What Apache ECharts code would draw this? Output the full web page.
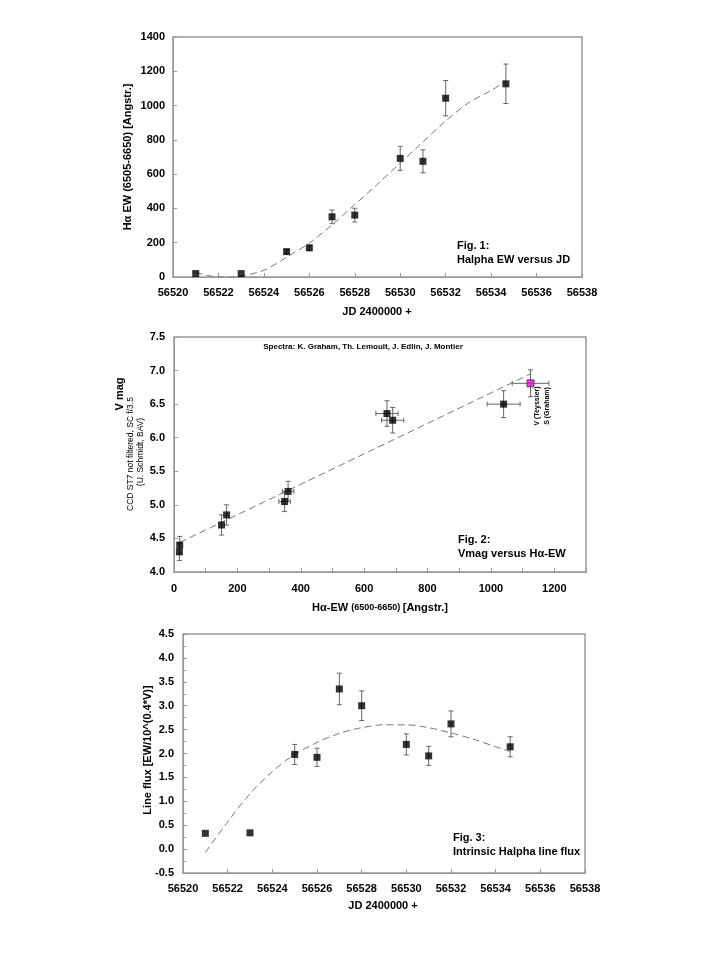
<!DOCTYPE html>
<html><head><meta charset="utf-8">
<script src="https://cdn.jsdelivr.net/npm/echarts@6/dist/echarts.min.js"></script>
<style>html,body{margin:0;padding:0;background:#fff}#c{width:720px;height:960px}</style>
</head><body><div id="c"></div>
<script>
// ---------- Fig. 1: Halpha EW versus JD ----------
const jd = [56521, 56523, 56525, 56526, 56527, 56528, 56530, 56531, 56532, 56534.65];
const ew = [20, 20, 148, 170, 351, 361, 692, 675, 1043, 1127];
const ewErr = [0, 0, 12, 15, 40, 40, 70, 67, 103, 115];
const fit1X = [56521, 56521.5, 56522, 56522.5, 56523, 56524, 56525, 56526, 56527, 56528, 56529, 56530, 56531, 56532, 56533, 56534, 56534.65];
const fit1Y = [27, 10, 0, 0, 6, 39, 115, 198, 304, 422, 542, 665, 788, 910, 1015, 1088, 1142];
const xTicks1 = [56520, 56538, 2];
const yTicks1 = [0, 1400, 200];

// ---------- Fig. 2: Vmag versus Ha-EW ----------
const ew2 = [18, 17, 150, 166, 349, 360, 672, 690, 1040];
const vmag = [4.40, 4.30, 4.70, 4.85, 5.05, 5.20, 6.36, 6.26, 6.50];
const vErr = [0.13, 0.13, 0.15, 0.15, 0.15, 0.15, 0.19, 0.19, 0.20];
const ewErr2 = [0, 0, 0, 0, 18, 18, 35, 35, 52];
const teyssierEW = [1125];
const teyssierV = [6.81];
const teyssierVErr = [0.20];
const teyssierEWErr = [58];
const fit2X = [18, 1125];
const fit2Y = [4.44, 6.95];
const xTicks2 = [0, 1300, 100];
const yTicks2 = [4.0, 7.5, 0.5];

// ---------- Fig. 3: Intrinsic Halpha line flux ----------
const jd3 = [56521, 56523, 56525, 56526, 56527, 56528, 56530, 56531, 56532, 56534.65];
const flux = [0.33, 0.34, 1.98, 1.92, 3.35, 3.00, 2.19, 1.95, 2.62, 2.14];
const fluxErr = [0, 0, 0.21, 0.19, 0.33, 0.31, 0.22, 0.20, 0.27, 0.21];
const fit3X = [56521, 56522, 56523, 56524, 56525, 56526, 56527, 56528, 56529, 56530, 56531, 56532, 56533, 56534, 56534.65];
const fit3Y = [-0.07, 0.57, 1.16, 1.62, 1.98, 2.23, 2.42, 2.54, 2.60, 2.60, 2.54, 2.43, 2.30, 2.14, 2.04];
const xTicks3 = [56520, 56538, 2];
const yTicks3 = [-0.5, 4.5, 0.5];

const FONT = "'Liberation Sans', Arial, sans-serif";
const AX = '#999';
const zip = (a, b, c) => a.map((v, i) => c ? [v, b[i], c[i]] : [v, b[i]]);

function vErrBar(params, api) {
  const x = api.value(0), y = api.value(1), e = api.value(2);
  if (!e) return null;
  const p1 = api.coord([x, y - e]), p2 = api.coord([x, y + e]);
  const c = 2.5, st = { stroke: '#666', lineWidth: 1 };
  return { type: 'group', children: [
    { type: 'line', shape: { x1: p1[0], y1: p1[1], x2: p2[0], y2: p2[1] }, style: st },
    { type: 'line', shape: { x1: p1[0] - c, y1: p1[1], x2: p1[0] + c, y2: p1[1] }, style: st },
    { type: 'line', shape: { x1: p2[0] - c, y1: p2[1], x2: p2[0] + c, y2: p2[1] }, style: st }
  ]};
}
function hErrBar(params, api) {
  const x = api.value(0), y = api.value(1), e = api.value(2);
  if (!e) return null;
  const p1 = api.coord([x - e, y]), p2 = api.coord([x + e, y]);
  const c = 2.5, st = { stroke: '#666', lineWidth: 1 };
  return { type: 'group', children: [
    { type: 'line', shape: { x1: p1[0], y1: p1[1], x2: p2[0], y2: p2[1] }, style: st },
    { type: 'line', shape: { x1: p1[0], y1: p1[1] - c, x2: p1[0], y2: p1[1] + c }, style: st },
    { type: 'line', shape: { x1: p2[0], y1: p2[1] - c, x2: p2[0], y2: p2[1] + c }, style: st }
  ]};
}

function axis(t, idx, fmt, margin, extra) {
  return Object.assign({
    type: 'value', gridIndex: idx, min: t[0], max: t[1], interval: t[2],
    axisLine: { show: true, onZero: false, lineStyle: { color: AX, width: 1 } },
    axisTick: { show: true, inside: true, length: 4, lineStyle: { color: AX } },
    splitLine: { show: false },
    axisLabel: { color: '#000', fontWeight: 'bold', fontSize: 11, fontFamily: FONT, margin: margin, formatter: fmt, showMinLabel: true, showMaxLabel: true }
  }, extra || {});
}
const fmtInt = v => String(v);
const fmt1 = v => v.toFixed(1);
const fmt200 = v => (v % 200 === 0 ? String(v) : '');

const gridCommon = { show: true, borderColor: AX, borderWidth: 1.5, backgroundColor: 'transparent', containLabel: false, outerBoundsMode: 'none' };
const dashed = { color: '#777', width: 1, type: [7, 4] };
const sq = { symbol: 'rect', symbolSize: 7, itemStyle: { color: '#000' } };

function txt(x, y, text, size, opts) {
  return Object.assign({
    type: 'text', x: x, y: y, silent: true,
    style: Object.assign({ text: text, fill: '#000', font: 'bold ' + size + 'px ' + FONT, align: 'center', verticalAlign: 'middle' }, (opts && opts.style) || {})
  }, (opts && opts.el) || {});
}

const option = {
  backgroundColor: '#fff',
  animation: false,
  grid: [
    Object.assign({ left: 173, top: 37, width: 409, height: 240 }, gridCommon),
    Object.assign({ left: 174, top: 337, width: 412, height: 235 }, gridCommon),
    Object.assign({ left: 183, top: 634, width: 402, height: 239 }, gridCommon)
  ],
  xAxis: [
    axis(xTicks1, 0, fmtInt, 10),
    axis(xTicks2, 1, fmt200, 11),
    axis(xTicks3, 2, fmtInt, 10)
  ],
  yAxis: [
    axis(yTicks1, 0, fmtInt, 8),
    axis(yTicks2, 1, fmt1, 9),
    axis(yTicks3, 2, fmt1, 9, { minorTick: { show: true, splitNumber: 2, length: 3, lineStyle: { color: AX } } })
  ],
  series: [
    // Fig 1
    { type: 'line', xAxisIndex: 0, yAxisIndex: 0, data: zip(fit1X, fit1Y), smooth: 0.3, showSymbol: false, lineStyle: dashed, z: 1 },
    { type: 'custom', xAxisIndex: 0, yAxisIndex: 0, data: zip(jd, ew, ewErr), renderItem: vErrBar, encode: { x: 0, y: 1 }, z: 2 },
    Object.assign({ type: 'scatter', xAxisIndex: 0, yAxisIndex: 0, data: zip(jd, ew), z: 3 }, sq),
    // Fig 2
    { type: 'line', xAxisIndex: 1, yAxisIndex: 1, data: zip(fit2X, fit2Y), showSymbol: false, lineStyle: dashed, z: 1 },
    { type: 'custom', xAxisIndex: 1, yAxisIndex: 1, data: zip(ew2, vmag, vErr), renderItem: vErrBar, encode: { x: 0, y: 1 }, z: 2 },
    { type: 'custom', xAxisIndex: 1, yAxisIndex: 1, data: zip(ew2, vmag, ewErr2), renderItem: hErrBar, encode: { x: 0, y: 1 }, z: 2 },
    { type: 'custom', xAxisIndex: 1, yAxisIndex: 1, data: zip(teyssierEW, teyssierV, teyssierVErr), renderItem: vErrBar, encode: { x: 0, y: 1 }, z: 2 },
    { type: 'custom', xAxisIndex: 1, yAxisIndex: 1, data: zip(teyssierEW, teyssierV, teyssierEWErr), renderItem: hErrBar, encode: { x: 0, y: 1 }, z: 2 },
    Object.assign({ type: 'scatter', xAxisIndex: 1, yAxisIndex: 1, data: zip(ew2, vmag), z: 3 }, sq),
    { type: 'scatter', xAxisIndex: 1, yAxisIndex: 1, data: zip(teyssierEW, teyssierV), symbol: 'rect', symbolSize: 7, itemStyle: { color: '#d020d0', borderColor: '#800080', borderWidth: 1 }, z: 3 },
    // Fig 3
    { type: 'line', xAxisIndex: 2, yAxisIndex: 2, data: zip(fit3X, fit3Y), smooth: 0.3, showSymbol: false, lineStyle: dashed, z: 1 },
    { type: 'custom', xAxisIndex: 2, yAxisIndex: 2, data: zip(jd3, flux, fluxErr), renderItem: vErrBar, encode: { x: 0, y: 1 }, z: 2 },
    Object.assign({ type: 'scatter', xAxisIndex: 2, yAxisIndex: 2, data: zip(jd3, flux), z: 3 }, sq)
  ],
  graphic: [
    // Fig 1 texts
    txt(377, 312, 'JD 2400000 +', 11),
    txt(128, 157, 'H\u03b1 EW (6505-6650) [Angstr.]', 11, { el: { rotation: Math.PI / 2 } }),
    txt(457, 246, 'Fig. 1:', 11, { style: { align: 'left' } }),
    txt(457, 260, 'Halpha EW versus JD', 11, { style: { align: 'left' } }),
    // Fig 2 texts
    {
      type: 'text', x: 380, y: 608, silent: true,
      style: {
        text: '{a|H\u03b1-EW }{b|(6500-6650) }{a|[Angstr.]}',
        align: 'center', verticalAlign: 'middle',
        rich: {
          a: { font: 'bold 11px ' + FONT, fill: '#000' },
          b: { font: 'bold 9px ' + FONT, fill: '#000' }
        }
      }
    },
    txt(120, 394, 'V mag', 11, { el: { rotation: Math.PI / 2 } }),
    txt(131, 454, 'CCD ST7 not filtered, SC f/3.5', 8.5, { el: { rotation: Math.PI / 2 }, style: { font: '8.5px ' + FONT } }),
    txt(141, 452, '(U. Schmidt, BAV)', 8.5, { el: { rotation: Math.PI / 2 }, style: { font: '8.5px ' + FONT } }),
    txt(363, 347, 'Spectra: K. Graham, Th. Lemoult, J. Edlin, J. Montier', 8),
    txt(537, 406, 'V (Teyssier)', 7, { el: { rotation: Math.PI / 2 } }),
    txt(547, 406, 'S (Graham)', 7, { el: { rotation: Math.PI / 2 } }),
    txt(458, 540, 'Fig. 2:', 11, { style: { align: 'left' } }),
    txt(458, 554, 'Vmag versus H\u03b1-EW', 11, { style: { align: 'left' } }),
    // Fig 3 texts
    txt(383, 906, 'JD 2400000 +', 11),
    txt(148, 750, 'Line flux [EW/10^(0.4*V)]', 11, { el: { rotation: Math.PI / 2 } }),
    txt(453, 838, 'Fig. 3:', 11, { style: { align: 'left' } }),
    txt(453, 852, 'Intrinsic Halpha line flux', 11, { style: { align: 'left' } })
  ]
};
const chart = echarts.init(document.getElementById('c'), null, { renderer: 'canvas', width: 720, height: 960 });
chart.setOption(option);
</script>
</body></html>
